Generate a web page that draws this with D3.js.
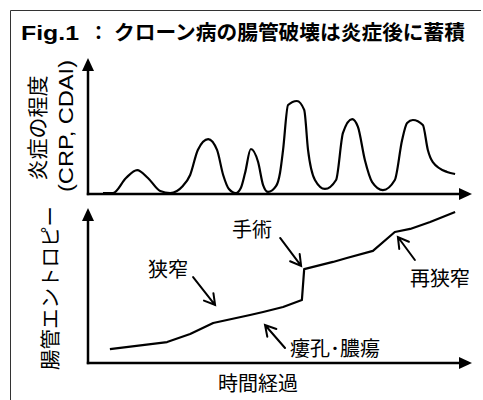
<!DOCTYPE html>
<html><head><meta charset="utf-8">
<script src="https://cdn.jsdelivr.net/npm/d3@7"></script>
<style>
html,body{margin:0;padding:0;background:#fff;}
svg{display:block;}
</style></head>
<body>
<svg id="c" width="483" height="400"></svg>
<script>
// ---- data ----
const titleLatin = "Fig.1";
const titleColon = "：";
const titleJa = "クローン病の腸管破壊は炎症後に蓄積";
const topLabel1 = "炎症の程度";
const topLabel2 = "(CRP, CDAI)";
const bottomLabel = "腸管エントロピー";
const xLabel = "時間経過";

// inflammation (top panel): time 0-100, level 0-100
const inflTime  = [3.9,6.5,9.9,12.8,15.6,18.8,21.4,24.7,26.6,28.6,31.3,33.6,35.2,36.7,38.5,39.8,40.9,42.4,44.3,45.6,46.9,49.0,50.0,50.8,52.1,54.4,56.3,57.3,59.1,61.7,64.6,66.4,68.8,70.3,72.1,74.0,76.8,79.9,81.8,83.1,84.6,87.2,88.5,89.8,93.5,95.6];
const inflValue = [0.7,0.7,11.8,17.6,11.8,2.2,0.7,5.9,14.0,32.4,40.4,32.4,14.0,3.7,0.7,4.4,15.4,33.1,23.5,6.6,1.5,5.9,15.4,32.4,65.4,68.4,61.8,32.4,10.3,3.7,10.3,44.9,55.1,49.3,25.0,8.8,2.9,10.3,39.7,52.2,54.4,50.7,32.4,23.5,16.2,14.7];

// bowel damage entropy (bottom panel)
const dmgTime  = [5.7,20.6,26.6,32.6,42.2,45.6,50.8,55.7,56.3,63.8,67.4,74.2,79.9,83.9,89.1,95.6];
const dmgValue = [9.0,13.5,18.7,25.8,31.0,32.9,36.1,40.6,60.6,65.2,67.7,72.3,84.5,86.5,91.0,97.4];

// annotations (bottom panel), arrow target in data units
const annLabels = ["狭窄","手術","再狭窄","瘻孔･膿瘍"];
const annTime   = [33.1,55.5,80.7,46.1];
const annValue  = [37.4,62.6,81.3,24.5];

// ---- layout ----
const svg = d3.select("#c");
const jaFont = "'Noto Sans CJK JP','Liberation Sans',sans-serif";
const latFont = "'Liberation Sans',Arial,sans-serif";

// frame
svg.append("line").attr("x1",10.5).attr("y1",10.5).attr("x2",481).attr("y2",10.5).attr("stroke","#333").attr("stroke-width",1);
svg.append("line").attr("x1",10.5).attr("y1",10.5).attr("x2",10.5).attr("y2",400).attr("stroke","#333").attr("stroke-width",1);

// title
const t = svg.append("text").attr("y",40).attr("font-weight","bold").attr("fill","#000");
t.append("tspan").attr("x",21).attr("font-family",latFont).attr("font-size",21).attr("textLength",58).attr("lengthAdjust","spacingAndGlyphs").text(titleLatin);
t.append("tspan").attr("x",89).attr("font-family",jaFont).attr("font-size",19).text(titleColon);
t.append("tspan").attr("x",114).attr("font-family",jaFont).attr("font-size",20.5).attr("textLength",351).attr("lengthAdjust","spacingAndGlyphs").text(titleJa);

const x = d3.scaleLinear().domain([0,100]).range([88,472]);
const yTop = d3.scaleLinear().domain([0,100]).range([194,58]);
const yBot = d3.scaleLinear().domain([0,100]).range([363,208]);

function axisPair(y){
  const g = svg.append("g");
  const x0 = x(0), y0 = y(0), xt = x(100), yt = y(100);
  g.append("line").attr("x1",x0).attr("y1",y0+1.2).attr("x2",x0).attr("y2",yt+10).attr("stroke","#000").attr("stroke-width",2.5);
  g.append("line").attr("x1",x0-1.2).attr("y1",y0).attr("x2",xt-10).attr("y2",y0).attr("stroke","#000").attr("stroke-width",2.5);
  g.append("path").attr("d",`M${x0},${yt} L${x0-6},${yt+13} L${x0+6},${yt+13} Z`).attr("fill","#000");
  g.append("path").attr("d",`M${xt},${y0} L${xt-13},${y0-6} L${xt-13},${y0+6} Z`).attr("fill","#000");
}
axisPair(yTop);
axisPair(yBot);

// curves
svg.append("path")
  .datum(d3.zip(inflTime, inflValue))
  .attr("d", d3.line().x(d=>x(d[0])).y(d=>yTop(d[1])).curve(d3.curveMonotoneX))
  .attr("fill","none").attr("stroke","#000").attr("stroke-width",2.2).attr("stroke-linejoin","round");

svg.append("path")
  .datum(d3.zip(dmgTime, dmgValue))
  .attr("d", d3.line().x(d=>x(d[0])).y(d=>yBot(d[1])).curve(d3.curveLinear))
  .attr("fill","none").attr("stroke","#000").attr("stroke-width",2.2).attr("stroke-linejoin","round");

// axis labels
svg.append("text").attr("transform","translate(45,128) rotate(-90)")
  .attr("text-anchor","middle").attr("font-family",jaFont).attr("font-size",21).text(topLabel1);
svg.append("text").attr("transform","translate(73,126) rotate(-90)")
  .attr("text-anchor","middle").attr("font-family",latFont).attr("font-size",21)
  .attr("textLength",132).attr("lengthAdjust","spacingAndGlyphs").text(topLabel2);
svg.append("text").attr("transform","translate(58,288) rotate(-90)")
  .attr("text-anchor","middle").attr("font-family",jaFont).attr("font-size",20.5).text(bottomLabel);
svg.append("text").attr("x",258).attr("y",391)
  .attr("text-anchor","middle").attr("font-family",jaFont).attr("font-size",20).text(xLabel);

// annotations
const annStyle = [
  {dx:-22, dy:-28, tx:-5, ty:0,  anchor:"end"},
  {dx:-21, dy:-28, tx:-8, ty:-1, anchor:"end"},
  {dx:17,  dy:23,  tx:-5, ty:26, anchor:"start"},
  {dx:20,  dy:23,  tx:5,  ty:8,  anchor:"start"}
];
annLabels.forEach((lab,i)=>{
  const s = annStyle[i];
  const px = x(annTime[i]), py = yBot(annValue[i]);
  const sx = px + s.dx, sy = py + s.dy;
  const ang = Math.atan2(sy-py, sx-px);
  const L = 12, a = Math.PI/6;
  const h1 = [px + L*Math.cos(ang+a), py + L*Math.sin(ang+a)];
  const h2 = [px + L*Math.cos(ang-a), py + L*Math.sin(ang-a)];
  svg.append("path")
    .attr("d",`M${sx},${sy} L${px},${py} M${h1[0]},${h1[1]} L${px},${py} L${h2[0]},${h2[1]}`)
    .attr("fill","none").attr("stroke","#000").attr("stroke-width",2).attr("stroke-linecap","round").attr("stroke-linejoin","miter");
  svg.append("text").attr("x",sx+s.tx).attr("y",sy+s.ty).attr("text-anchor",s.anchor)
    .attr("font-family",jaFont).attr("font-size",20).text(lab);
});
</script>
</body></html>
